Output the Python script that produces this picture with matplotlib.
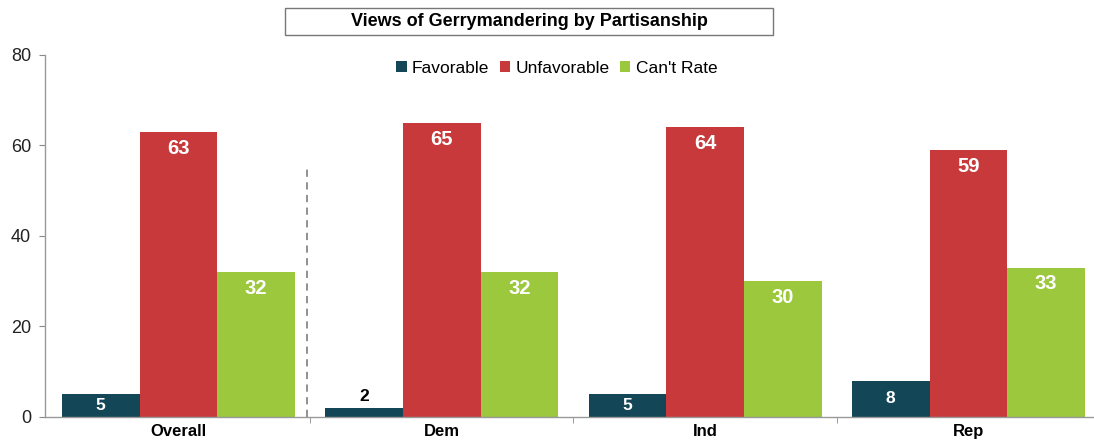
import matplotlib
matplotlib.use("Agg")
import matplotlib.pyplot as plt
from matplotlib.patches import Rectangle
import numpy as np

plt.rcParams['font.family'] = ['Liberation Sans', 'DejaVu Sans']

categories = ["Overall", "Dem", "Ind", "Rep"]
series_names = ["Favorable", "Unfavorable", "Can't Rate"]
favorable = [5, 2, 5, 8]
unfavorable = [63, 65, 64, 59]
cant_rate = [32, 32, 30, 33]
colors = ["#134656", "#C8393B", "#9BC83C"]
title = "Views of Gerrymandering by Partisanship"

fig = plt.figure(figsize=(10.94, 4.43), dpi=100)
ax = fig.add_axes([0.0411, 0.0587, 0.9589, 0.8172])

x = np.arange(len(categories))
w = 0.295
series = [favorable, unfavorable, cant_rate]
for i, (vals, name, c) in enumerate(zip(series, series_names, colors)):
    pos = x + (i - 1) * w
    bars = ax.bar(pos, vals, width=w, color=c, label=name, zorder=2)
    for b, v in zip(bars, vals):
        cx = b.get_x() + b.get_width() / 2
        if i == 0:
            if v < 4:
                ax.text(cx, v + 0.9, str(v), ha='center', va='bottom',
                        fontsize=12.5, fontweight='bold', color='black')
            else:
                ax.text(cx, v / 2, str(v), ha='center', va='center',
                        fontsize=12.5, fontweight='bold', color='white')
        else:
            ax.text(cx, v - 3.6, str(v), ha='center', va='center',
                    fontsize=14.5, fontweight='bold', color='white')

ax.set_xlim(-0.507, 3.477)
ax.set_ylim(0, 80)
ax.set_yticks([0, 20, 40, 60, 80])
ax.tick_params(axis='y', labelsize=13, length=4, color='#888888', labelcolor='#222222', pad=6)
ax.set_xticks(x)
ax.set_xticklabels(categories, fontsize=12, fontweight='bold')
ax.tick_params(axis='x', length=0, pad=5)
ax.set_xticks([0.5, 1.5, 2.5], minor=True)
ax.tick_params(axis='x', which='minor', length=4, color='#888888')

for s in ['top', 'right']:
    ax.spines[s].set_visible(False)
for s in ['left', 'bottom']:
    ax.spines[s].set_color('#999999')
    ax.spines[s].set_linewidth(1.0)

ax.plot([0.49, 0.49], [0, 55], ls=(0, (4, 3)), color='#888888', lw=1.3, zorder=1)

fig.patches.append(Rectangle((0.2605, 0.921), 0.446, 0.061, transform=fig.transFigure,
                             facecolor='white', edgecolor='#777777', lw=1))
fig.text(0.4835, 0.952, title, ha='center', va='center', fontsize=13, fontweight='bold')

leg = ax.legend(loc='center', bbox_to_anchor=(0.488, 0.964), ncol=3, frameon=False,
                fontsize=12.5, handlelength=0.6, handleheight=0.6, handletextpad=0.3,
                columnspacing=0.6)

fig.savefig("out.png", dpi=100)
